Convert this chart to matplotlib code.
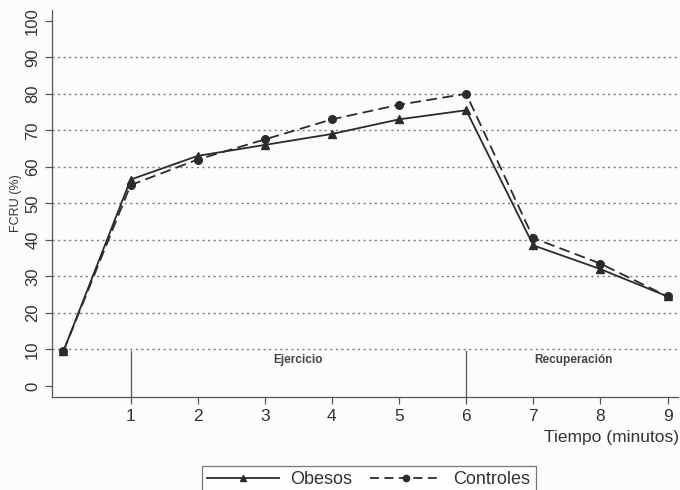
import matplotlib
matplotlib.use("Agg")
import matplotlib.pyplot as plt
from matplotlib.lines import Line2D

# ── Data ──────────────────────────────────────────────────────────
minutes = [0, 1, 2, 3, 4, 5, 6, 7, 8, 9]
obesos = [9.5, 56.5, 63, 66, 69, 73, 75.5, 38.5, 32, 24.5]
controles = [9.5, 55, 62, 67.5, 73, 77, 80, 40.5, 33.5, 24.5]
y_ticks = [0, 10, 20, 30, 40, 50, 60, 70, 80, 90, 100]
x_ticks = [1, 2, 3, 4, 5, 6, 7, 8, 9]
phase_bounds = [1, 6]
phase_labels = ["Ejercicio", "Recuperación"]
phase_label_x = [3.5, 7.6]

ink = "#2b2b2b"
plt.rcParams["font.family"] = ["Liberation Sans", "DejaVu Sans"]

fig = plt.figure(figsize=(6.8, 4.9), dpi=100, facecolor="#fcfcfc")
ax = fig.add_axes([0.0765, 0.19, 0.92, 0.79], facecolor="#fcfcfc")

# ── Grid and phase markers ────────────────────────────────────────
for y in y_ticks[1:-1]:
    ax.axhline(y, color="#7a7a7a", linestyle=(0, (1.5, 2.5)), linewidth=1.0, zorder=1)
for xb in phase_bounds:
    ax.plot([xb, xb], [-3, 9.7], color="#555555", linewidth=0.9, zorder=1)
for lx, lab in zip(phase_label_x, phase_labels):
    ax.text(lx, 7, lab, ha="center", va="center", fontsize=8.5,
            fontweight="bold", color="#444444")

# ── Series ────────────────────────────────────────────────────────
ax.plot(minutes, obesos, color=ink, linewidth=1.3, marker="^", markersize=6,
        zorder=3, clip_on=False)
ax.plot(minutes, controles, color=ink, linewidth=1.3, linestyle=(0, (6, 3)),
        marker="o", markersize=5.5, zorder=3, clip_on=False)

# ── Axes ──────────────────────────────────────────────────────────
ax.set_xlim(-0.17, 9.15)
ax.set_ylim(-3, 103)
ax.set_yticks(y_ticks)
ax.set_yticklabels([str(v) for v in y_ticks], rotation=90, va="center",
                   fontsize=12, color="#333333")
ax.set_xticks(x_ticks)
ax.set_xticklabels([str(v) for v in x_ticks], fontsize=12.5, color="#333333")
ax.tick_params(axis="both", color="#555555", length=5, width=0.9)
for side in ["top", "right"]:
    ax.spines[side].set_visible(False)
for side in ["left", "bottom"]:
    ax.spines[side].set_color("#555555")
    ax.spines[side].set_linewidth(0.9)

ax.set_ylabel("FCRU (%)", fontsize=9, color="#333333", labelpad=2)
fig.text(0.999, 0.108, "Tiempo (minutos)", ha="right", va="center",
         fontsize=12.5, color="#333333")

# ── Legend ────────────────────────────────────────────────────────
handles = [
    Line2D([], [], color=ink, linewidth=1.3, marker="^", markersize=5),
    Line2D([], [], color=ink, linewidth=1.3, linestyle=(0, (5, 3)),
           marker="o", markersize=4.5),
]
leg = fig.legend(handles, ["Obesos", "Controles"], loc="upper center",
                 bbox_to_anchor=(0.542, 0.068), ncol=2, frameon=True,
                 fancybox=False, edgecolor="#555555", fontsize=13,
                 handlelength=4.0, columnspacing=1.0, borderpad=0.3,
                 handletextpad=0.6)
leg.get_frame().set_linewidth(0.9)
for t in leg.get_texts():
    t.set_color("#333333")

fig.savefig("out.png", dpi=100, facecolor=fig.get_facecolor())
